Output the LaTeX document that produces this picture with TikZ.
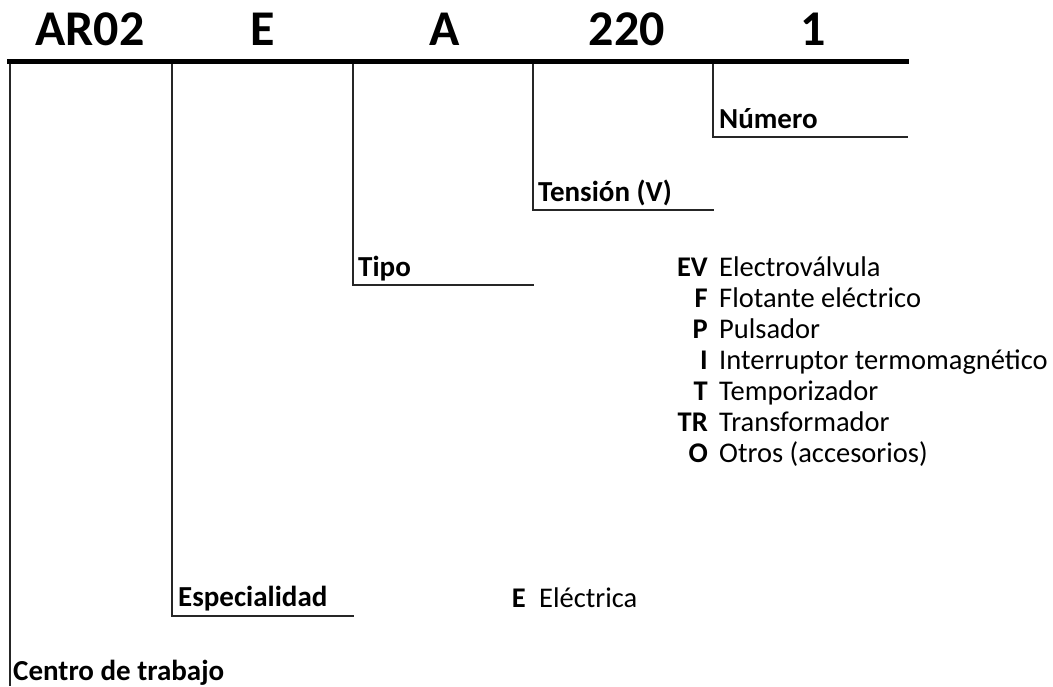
\documentclass[tikz,border=0pt]{standalone}
\usepackage{fontspec}
\setmainfont{Carlito}
\begin{document}
\begin{tikzpicture}[x=1pt,y=-1pt,
  head/.style={font=\fontsize{50}{56}\selectfont\bfseries, anchor=base, inner sep=0pt},
  lab/.style={font=\fontsize{29}{33}\selectfont\bfseries, anchor=base west, inner sep=0pt},
  code/.style={font=\fontsize{28.5}{32}\selectfont\bfseries, anchor=base east, inner sep=0pt},
  desc/.style={font=\fontsize{28.5}{32}\selectfont, anchor=base west, inner sep=0pt},
  thin/.style={line width=1.4pt, black!85},
  thick/.style={line width=5.5pt, black}]
\useasboundingbox (0,0) rectangle (1053,686);
% headers
\node[head] (hAR) at (90,45) {AR02};
\node[head] (hE) at (263,45) {E};
\node[head] (hA) at (445,45) {A};
\node[head] (h220) at (627,45) {220};
\node[head] (h1) at (813,45) {1};
% top thick line
\coordinate (L) at (7,61.5);
\coordinate (R) at (909,61.5);
\draw[thick] (L) -- (R);
% Centro de trabajo
\coordinate (t0) at (10,64);
\coordinate (b0) at (10,686);
\draw[thin] (t0) -- (b0);
\node[lab] (centro) at (13,680) {Centro de trabajo};
% Especialidad
\coordinate (t1) at (172,64);
\coordinate (c1) at (172,616);
\coordinate (e1) at (354,616);
\draw[thin] (t1) -- (c1) -- (e1);
\node[lab] (esp) at (178,606) {Especialidad};
% Tipo
\coordinate (t2) at (353,64);
\coordinate (c2) at (353,285);
\coordinate (e2) at (534,285);
\draw[thin] (t2) -- (c2) -- (e2);
\node[lab] (tipo) at (358,276) {Tipo};
% Tension
\coordinate (t3) at (533,64);
\coordinate (c3) at (533,210);
\coordinate (e3) at (714,210);
\draw[thin] (t3) -- (c3) -- (e3);
\node[lab] (tens) at (538,201) {Tensión (V)};
% Numero
\coordinate (t4) at (713,64);
\coordinate (c4) at (713,137);
\coordinate (e4) at (908,137);
\draw[thin] (t4) -- (c4) -- (e4);
\node[lab] (num) at (719,128) {Número};
% Tipo list
\foreach \c/\d [count=\i from 0] in {EV/Electroválvula, F/Flotante eléctrico, P/Pulsador, I/Interruptor termomagnético, T/Temporizador, TR/Transformador, O/Otros (accesorios)}{
  \node[code] (code\i) at (708,276+31*\i) {\c};
  \node[desc] (desc\i) at (719,276+31*\i) {\d};
}
% Especialidad list
\node[code] (codeE) at (526,607) {E};
\node[desc] (descE) at (539,607) {Eléctrica};
\end{tikzpicture}
\end{document}
